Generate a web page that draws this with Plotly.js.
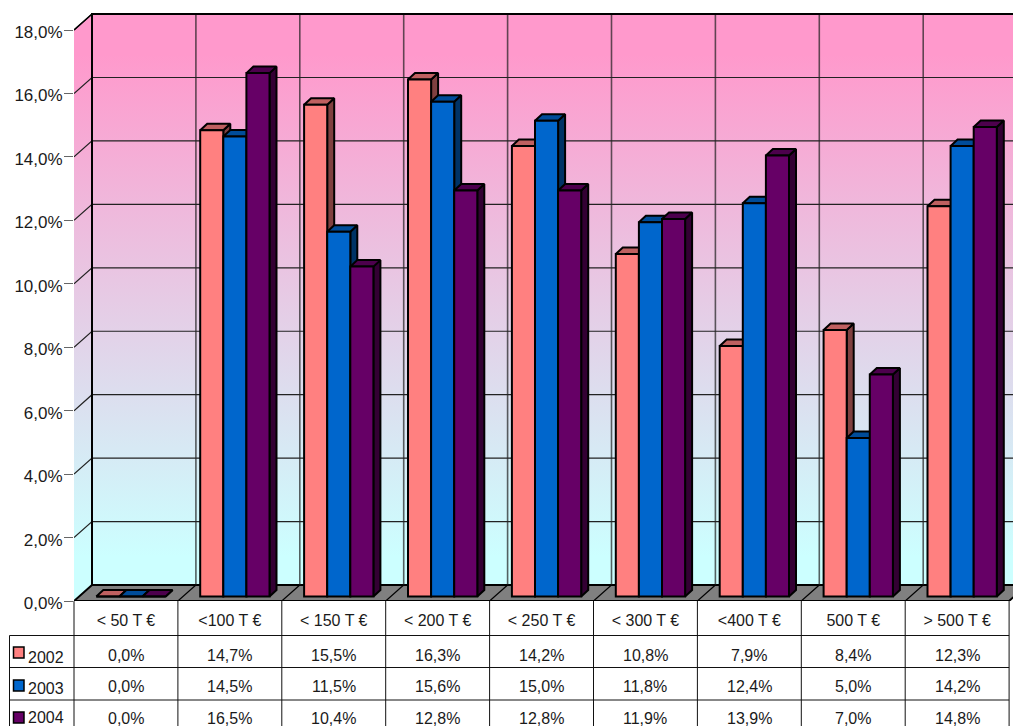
<!DOCTYPE html>
<html><head><meta charset="utf-8">
<script src="https://cdn.plot.ly/plotly-3.0.1.min.js"></script>
<style>html,body{margin:0;padding:0;background:#fff;overflow:hidden}#c{width:1013px;height:726px}</style>
</head><body><div id="c"></div>
<script>
const categories = ["< 50 T €","<100 T €","< 150 T €","< 200 T €","< 250 T €","< 300 T €","<400 T €","500 T €","> 500 T €"];
const seriesNames = ["2002","2003","2004"];
const values2002 = [0.0,14.7,15.5,16.3,14.2,10.8,7.9,8.4,12.3];
const values2003 = [0.0,14.5,11.5,15.6,15.0,11.8,12.4,5.0,14.2];
const values2004 = [0.0,16.5,10.4,12.8,12.8,11.9,13.9,7.0,14.8];
const valueTicks = [0,2,4,6,8,10,12,14,16,18];
const valueTickLabels = ["0,0%","2,0%","4,0%","6,0%","8,0%","10,0%","12,0%","14,0%","16,0%","18,0%"];

const frontColors = ["#FF8080","#0066CC","#660066"];
const topColors   = ["#BF6060","#004C99","#4D004D"];
const sideColors  = ["#804040","#003366","#330033"];

const W=1013,H=726,L=74,B=125,PLOTW=W-L,PLOTH=H-B;
const catW=103.9, yScale=31.72;
const wallDX=18/catW, wallDY=16/yScale;
const barDX=7/catW, barDY=6.5/yScale, barBase=4.5/yScale;
const barW=23.1/catW, barStart=22.3/catW;
const n=categories.length, maxV=valueTicks[valueTicks.length-1];
const series=[values2002,values2003,values2004];
const px=v=>(v-L)/PLOTW, py=v=>(PLOTH-v)/PLOTH;

const traces=[];
const xL=-0.5, xR=-0.5+n, wx=xL+wallDX, wxr=xR+wallDX;
const gradient={type:'vertical',start:wallDY,stop:maxV+wallDY,
  colorscale:[[0,'#CCFFFF'],[0.05,'#CCFFFF'],[0.93,'#FF99CC'],[1,'#FF99CC']]};
const base={mode:'lines',hoverinfo:'skip',showlegend:false};
// back wall
traces.push({...base,type:'scatter',zorder:0,x:[wx,wxr,wxr,wx,wx],y:[wallDY,wallDY,maxV+wallDY,maxV+wallDY,wallDY],
  fill:'toself',fillgradient:gradient,line:{width:0}});
// side wall
traces.push({...base,type:'scatter',zorder:0,x:[xL,wx,wx,xL,xL],y:[0,wallDY,maxV+wallDY,maxV,0],
  fill:'toself',fillgradient:gradient,line:{width:0}});
// floor
traces.push({...base,type:'scatter',zorder:0,x:[xL,xR,wxr,wx,xL],y:[0,0,wallDY,wallDY,0],
  fill:'toself',fillcolor:'#808080',line:{color:'#000',width:2}});
// gridlines
const hx=[],hy=[],vx=[],vy=[],fx=[],fy=[];
valueTicks.forEach(t=>{ if(t>0){hx.push(xL,wx,wxr,null);hy.push(t,t+wallDY,t+wallDY,null);} });
for(let i=1;i<n;i++){
  vx.push(xL+i+wallDX,xL+i+wallDX,null); vy.push(wallDY,maxV+wallDY,null);
  fx.push(xL+i,xL+i+wallDX,null); fy.push(0,wallDY,null);
}
traces.push({...base,type:'scatter',zorder:1,x:vx,y:vy,line:{color:'rgba(30,30,30,0.7)',width:1.6}});
traces.push({...base,type:'scatter',zorder:1,x:hx,y:hy,line:{color:'#222',width:1.2}});
traces.push({...base,type:'scatter',zorder:1,x:fx,y:fy,line:{color:'#000',width:1.2}});
// wall frame
traces.push({...base,type:'scatter',zorder:1,x:[wx,wx,wxr],y:[wallDY,maxV+wallDY,maxV+wallDY],line:{color:'#000',width:2}});
traces.push({...base,type:'scatter',zorder:1,x:[xL,wx],y:[maxV,maxV+wallDY],line:{color:'#000',width:1.5}});

series.forEach((vals,s)=>{
  const off=-0.5+barStart+barW*s;
  const sx=[],sy=[],tx=[],ty=[];
  vals.forEach((v,i)=>{
    const l=i+off,r=l+barW,top=barBase+v;
    sx.push(r,r+barDX,r+barDX,r,r,null); sy.push(barBase,barBase+barDY,top+barDY,top,barBase,null);
    tx.push(l,r,r+barDX,l+barDX,l,null); ty.push(top,top,top+barDY,top+barDY,top,null);
  });
  const z=2+s*2;
  traces.push({...base,type:'scatter',zorder:z,x:sx,y:sy,fill:'toself',fillcolor:sideColors[s],line:{color:'#000',width:2}});
  traces.push({...base,type:'scatter',zorder:z,x:tx,y:ty,fill:'toself',fillcolor:topColors[s],line:{color:'#000',width:2}});
  traces.push({type:'bar',name:seriesNames[s],zorder:z+1,x:vals.map((_,i)=>i),y:vals,base:barBase,
    width:barW,offset:off,marker:{color:frontColors[s],line:{color:'#000',width:2}},hoverinfo:'skip',showlegend:false});
});

const txt='#1a1a1a', font={family:'"Liberation Sans",Arial,sans-serif',size:16,color:txt};
const annotations=[], shapes=[];
const rowY=[655,686.7,718];
const line=(x0,y0,x1,y1,color,w)=>shapes.push({type:'line',xref:'paper',yref:'paper',x0:px(x0),y0:py(y0),x1:px(x1),y1:py(y1),line:{color:color||'#111',width:w||1}});
for(let i=0;i<=n;i++) line(L+catW*i,601,L+catW*i,726);
line(9.5,635.5,9.5,726);
[635.5,667.5,700].forEach(y=>line(9.5,y,L+catW*n,y));
const labelY=[657,688,717.5], swatchY=[647,680,712];
series.forEach((vals,s)=>{
  vals.forEach((v,i)=>annotations.push({xref:'x',yref:'paper',x:i,y:py(rowY[s]),text:v.toFixed(1).replace('.',',')+'%',showarrow:false,font,xanchor:'center',yanchor:'middle'}));
  annotations.push({xref:'paper',yref:'paper',x:px(28),y:py(labelY[s]),text:seriesNames[s],showarrow:false,font,xanchor:'left',yanchor:'middle',xshift:-2});
  shapes.push({type:'rect',xref:'paper',yref:'paper',x0:px(13.5),x1:px(24),y0:py(swatchY[s]),y1:py(swatchY[s]+11),fillcolor:frontColors[s],line:{color:'#000',width:1.5}});
});

const layout={width:W,height:H,margin:{l:L,r:0,t:0,b:B,pad:0},paper_bgcolor:'#fff',plot_bgcolor:'#fff',
  barmode:'overlay',showlegend:false,font,
  xaxis:{type:'linear',range:[xL,xL+PLOTW/catW],tickmode:'array',tickvals:categories.map((_,i)=>i),ticktext:categories,
    showgrid:false,zeroline:false,showline:false,ticks:'',tickfont:font,ticklabelstandoff:8},
  yaxis:{range:[0,PLOTH/yScale],tickmode:'array',tickvals:valueTicks,ticktext:valueTickLabels,
    showgrid:false,zeroline:false,showline:false,ticks:'outside',ticklen:9,tickwidth:1,tickcolor:'#666',tickfont:{...font,size:17},
    ticklabelstandoff:-2,ticklabelshift:2},
  annotations,shapes};
Plotly.newPlot('c',traces,layout,{staticPlot:true,displayModeBar:false});
</script></body></html>
